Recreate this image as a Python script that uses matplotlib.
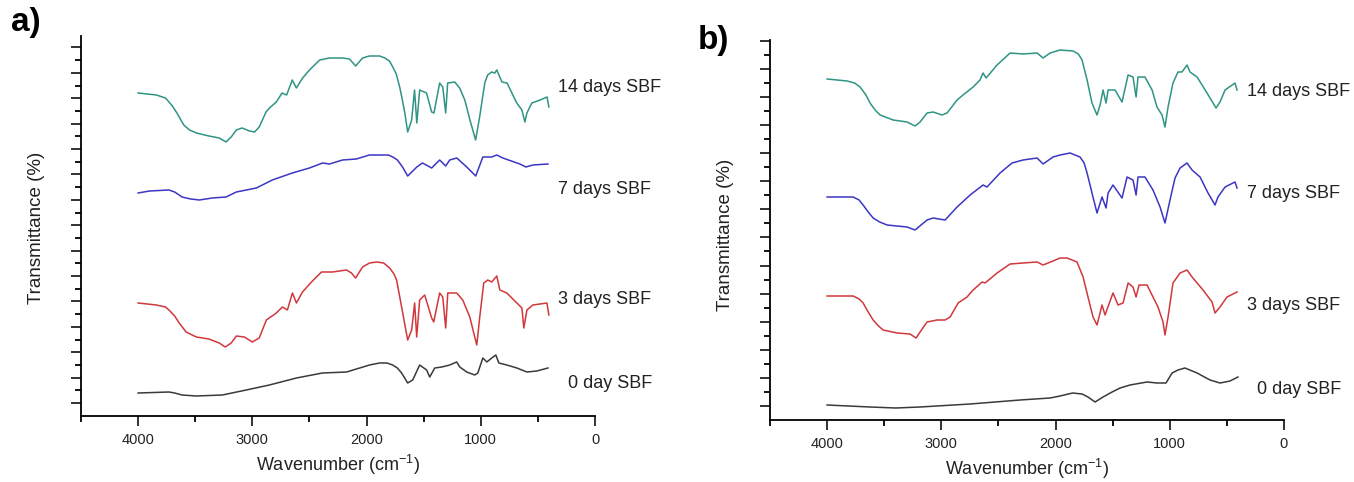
import matplotlib
matplotlib.use("Agg")
import matplotlib.pyplot as plt
from matplotlib.ticker import FixedLocator

plt.rcParams["font.family"] = ["Liberation Sans", "DejaVu Sans"]
plt.rcParams["mathtext.default"] = "regular"

# ---- panel a) spectra (wavenumber cm-1, transmittance a.u.) ----
a14_wn = [4000, 3840, 3760, 3730, 3700, 3660, 3600, 3550, 3490, 3380, 3290, 3230, 3185, 3140,
          3090, 3025, 2980, 2940, 2880, 2850, 2790, 2740, 2700, 2650, 2615, 2560, 2500, 2410,
          2325, 2210, 2150, 2095, 2035, 1975, 1885, 1840, 1800, 1770, 1740, 1710, 1690, 1665,
          1640, 1605, 1580, 1560, 1535, 1475, 1430, 1410, 1360, 1333, 1307, 1290, 1228, 1185,
          1140, 1095, 1045, 1010, 965, 940, 905, 877, 860, 815, 770, 685, 640, 614, 596, 553,
          480, 420, 404]
a14_t = [323, 321, 318, 314, 310, 303, 291, 286, 283, 280, 278, 274, 279, 286,
         288, 285, 284, 289, 304, 308, 314, 323, 321, 336, 328, 338, 346, 356,
         358, 358, 357, 350, 358, 360, 360, 358, 355, 349, 342, 329, 318, 303,
         284, 296, 326, 293, 326, 323, 304, 303, 333, 329, 303, 333, 334, 328,
         316, 296, 276, 299, 333, 341, 344, 343, 346, 334, 333, 313, 306, 294, 303, 313,
         316, 319, 309]

a7_wn = [4000, 3900, 3730, 3680, 3615, 3540, 3465, 3350, 3230, 3140, 2965, 2825, 2650, 2500,
         2385, 2325, 2210, 2090, 1975, 1885, 1810, 1770, 1730, 1685, 1640, 1560, 1510, 1430,
         1360, 1307, 1272, 1210, 1123, 1044, 982, 904, 860, 807, 658, 605, 544, 412]
a7_t = [223, 225, 226, 224, 219, 217, 216, 218, 219, 224, 228, 236, 243, 248,
        253, 252, 256, 257, 261, 261, 261, 259, 256, 249, 240, 249, 253, 248,
        256, 250, 256, 258, 249, 240, 259, 259, 261, 258, 252, 249, 251, 252]

a3_wn = [4000, 3840, 3760, 3730, 3680, 3640, 3580, 3490, 3380, 3290, 3237, 3185, 3140, 3070,
         3000, 2940, 2877, 2790, 2737, 2693, 2649, 2614, 2561, 2482, 2395, 2298, 2175, 2132,
         2096, 2035, 1974, 1912, 1850, 1798, 1760, 1737, 1693, 1640, 1605, 1579, 1561, 1535,
         1491, 1430, 1412, 1360, 1333, 1307, 1289, 1211, 1158, 1096, 1053, 1035, 1009, 974,
         939, 904, 860, 833, 772, 684, 640, 623, 596, 544, 421, 404]
a3_t = [113, 111, 109, 106, 100, 93, 84, 79, 77, 73, 69, 73, 80, 79,
        74, 78, 96, 103, 109, 106, 123, 113, 124, 134, 144, 144, 146, 143,
        138, 149, 153, 154, 153, 148, 142, 136, 109, 76, 86, 113, 79, 116,
        121, 98, 94, 123, 119, 88, 123, 123, 116, 99, 79, 71, 99, 133,
        136, 134, 140, 126, 123, 113, 108, 88, 106, 111, 113, 101]

a0_wn = [4000, 3730, 3680, 3615, 3490, 3263, 3053, 2851, 2614, 2386, 2175, 1974, 1886, 1820,
         1772, 1730, 1693, 1640, 1596, 1535, 1474, 1447, 1403, 1342, 1272, 1211, 1184, 1123,
         1053, 1026, 982, 947, 904, 868, 842, 772, 684, 596, 509, 412]
a0_t = [23, 24, 23, 21, 20, 21, 26, 31, 38, 43, 44, 51, 53, 53,
        51, 48, 43, 33, 36, 51, 46, 39, 48, 49, 51, 54, 49, 44,
        41, 43, 58, 54, 58, 61, 53, 51, 48, 44, 45, 48]

# ---- panel b) spectra ----
b14_wn = [4000, 3825, 3760, 3711, 3660, 3624, 3580, 3536, 3422, 3300, 3230, 3186, 3125, 3072,
          2993, 2950, 2862, 2810, 2722, 2661, 2635, 2608, 2512, 2398, 2284, 2162, 2109, 2048,
          1961, 1847, 1800, 1768, 1724, 1681, 1637, 1610, 1584, 1558, 1540, 1479, 1418, 1365,
          1322, 1295, 1278, 1217, 1155, 1112, 1068, 1042, 1015, 972, 928, 893, 849, 823, 761,
          674, 621, 595, 560, 516, 429, 411]
b14_t = [341, 339, 337, 333, 325, 317, 310, 305, 300, 298, 294, 298, 307, 308,
         305, 307, 320, 325, 333, 340, 347, 342, 355, 367, 366, 367, 362, 367,
         370, 369, 366, 360, 340, 317, 305, 315, 330, 317, 330, 330, 318, 345,
         343, 323, 343, 343, 330, 313, 305, 293, 313, 337, 348, 348, 355, 348, 343,
         327, 317, 312, 318, 330, 337, 330]

b7_wn = [4000, 3772, 3720, 3685, 3640, 3597, 3540, 3475, 3300, 3230, 3125, 3072, 2967, 2862,
         2748, 2635, 2600, 2486, 2381, 2284, 2162, 2109, 2022, 1961, 1873, 1786, 1750, 1724,
         1681, 1637, 1593, 1558, 1540, 1497, 1418, 1374, 1322, 1295, 1278, 1217, 1147, 1085,
         1042, 998, 954, 910, 849, 805, 735, 665, 604, 578, 516, 429, 411]
b7_t = [223, 223, 220, 215, 208, 202, 198, 195, 193, 190, 200, 202, 200, 213,
        225, 235, 233, 247, 257, 260, 262, 256, 263, 265, 267, 263, 257, 247,
        227, 207, 223, 212, 227, 235, 222, 243, 240, 225, 243, 243, 230, 213,
        197, 220, 242, 252, 257, 250, 243, 227, 215, 223, 233, 238, 232]

b3_wn = [4000, 3772, 3720, 3685, 3640, 3597, 3550, 3510, 3387, 3274, 3221, 3186, 3125, 3037,
         2967, 2923, 2853, 2775, 2722, 2643, 2617, 2512, 2398, 2284, 2162, 2109, 2022, 1961,
         1899, 1812, 1759, 1716, 1672, 1637, 1593, 1567, 1497, 1453, 1409, 1365, 1322, 1295,
         1269, 1199, 1147, 1103, 1059, 1042, 1015, 972, 910, 849, 805, 709, 630, 604, 560,
         499, 411]
b3_t = [124, 124, 121, 117, 108, 100, 94, 90, 87, 86, 82, 88, 98, 100,
        100, 103, 117, 123, 130, 138, 137, 147, 156, 157, 158, 155, 159, 162,
        162, 158, 143, 123, 103, 95, 115, 105, 127, 115, 117, 137, 133, 123,
        135, 135, 123, 113, 98, 85, 103, 137, 147, 150, 143, 130, 118, 107, 113,
        123, 128]

b0_wn = [4000, 3624, 3400, 3186, 2748, 2311, 2048, 1961, 1850, 1768, 1716, 1654, 1584, 1505,
         1435, 1348, 1199, 1112, 1033, 980, 928, 867, 761, 648, 560, 473, 403]
b0_t = [15, 13, 12, 13, 16, 20, 22, 24, 27, 26, 23, 18, 23, 28,
        32, 35, 38, 37, 37, 47, 50, 52, 47, 40, 37, 39, 43]

labels = ["14 days SBF", "7 days SBF", "3 days SBF", "0 day SBF"]
label_wn = [325, 325, 322, 237]
colors = ["#2f9484", "#3b36c4", "#d0383c", "#3a3a3a"]

panels = [
    {"series": [(a14_wn, a14_t), (a7_wn, a7_t), (a3_wn, a3_t), (a0_wn, a0_t)],
     "label_y": [328, 226, 116, 33],
     "rect": [81 / 1354, 66 / 482, 514 / 1354, 380 / 482], "yticks": (13, 12.7, 29)},
    {"series": [(b14_wn, b14_t), (b7_wn, b7_t), (b3_wn, b3_t), (b0_wn, b0_t)],
     "label_y": [328, 226, 115, 30],
     "rect": [770 / 1354, 62 / 482, 514 / 1354, 380 / 482], "yticks": (14, 14.05, 27)},
]

fig = plt.figure(figsize=(13.54, 4.82), dpi=100)

for p in panels:
    ax = fig.add_axes(p["rect"])
    for (wn, t), color in zip(p["series"], colors):
        ax.plot(wn, t, color=color, linewidth=1.1)
    for text, lx, ly in zip(labels, label_wn, p["label_y"]):
        ax.text(lx, ly, text, fontsize=13, color="#222222", va="center", ha="left")
    ax.set_xlim(4500, 0)
    ax.set_ylim(0, 380)
    for side in ("top", "right"):
        ax.spines[side].set_visible(False)
    ax.spines["left"].set_linewidth(1.3)
    ax.spines["bottom"].set_linewidth(1.3)
    ax.xaxis.set_major_locator(FixedLocator([4000, 3000, 2000, 1000, 0]))
    ax.xaxis.set_minor_locator(FixedLocator([4500, 3500, 2500, 1500, 500]))
    start, step, n = p["yticks"]
    ticks = [start + step * k for k in range(n)]
    ax.yaxis.set_major_locator(FixedLocator(ticks[::2]))
    ax.yaxis.set_minor_locator(FixedLocator(ticks[1::2]))
    ax.tick_params(axis="both", which="major", direction="out", length=7, width=1.3,
                   labelsize=10.5, colors="#222222", pad=5)
    ax.tick_params(axis="both", which="minor", direction="out", length=4, width=1.3)
    ax.tick_params(axis="y", labelleft=False)

fig.text(11 / 1354, 1 - 23 / 482, "a)", fontsize=24, fontweight="bold", va="center", ha="left")
fig.text(698 / 1354, 1 - 41 / 482, "b)", fontsize=24, fontweight="bold", va="center", ha="left")
fig.text(37 / 1354, 1 - 228 / 482, "Transmittance (%)", rotation=90, fontsize=13.5,
         va="center", ha="center", color="#222222")
fig.text(725 / 1354, 1 - 235 / 482, "Transmittance (%)", rotation=90, fontsize=13.5,
         va="center", ha="center", color="#222222")
fig.text(338 / 1354, 1 - 465 / 482, "Wavenumber (cm$^{-1}$)", fontsize=13,
         va="center", ha="center", color="#222222")
fig.text(1027 / 1354, 1 - 469 / 482, "Wavenumber (cm$^{-1}$)", fontsize=13,
         va="center", ha="center", color="#222222")

fig.savefig("out.png", dpi=100)
